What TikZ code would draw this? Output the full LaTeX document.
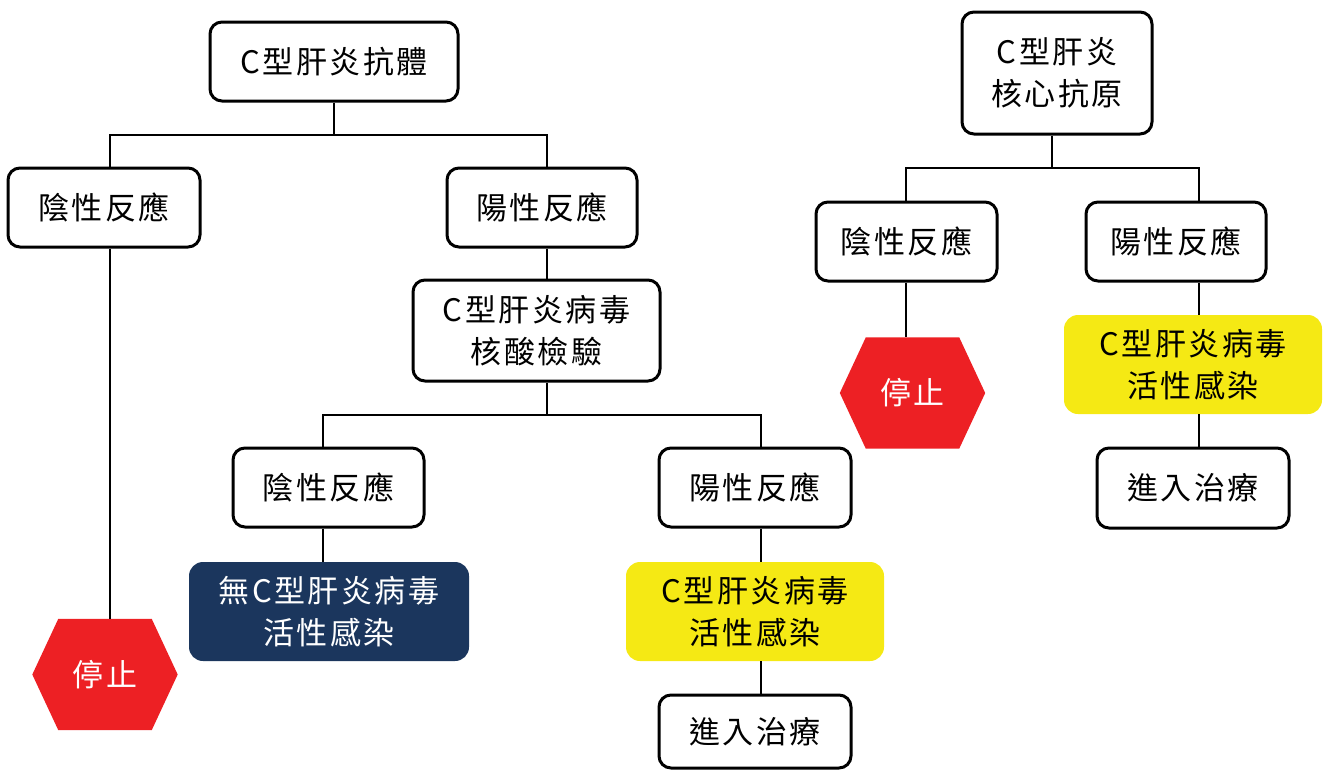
\documentclass[tikz,border=0pt]{standalone}
\usepackage{fontspec}
\setmainfont{Noto Sans CJK TC}[LetterSpace=8]
\usetikzlibrary{backgrounds}
\definecolor{stopred}{RGB}{237,32,36}
\definecolor{navyblue}{RGB}{27,54,93}
\definecolor{hlyellow}{RGB}{245,233,20}
\begin{document}
\begin{tikzpicture}[x=1pt,y=-1pt,
  txt/.style={align=center, inner sep=0pt, font=\fontsize{31}{42}\selectfont},
  box/.style={txt, draw, line width=3pt, rounded corners=12pt, fill=white},
  navybox/.style={txt, fill=navyblue, text=white, rounded corners=14pt},
  yellowbox/.style={txt, fill=hlyellow, rounded corners=14pt},
  stophex/.style={txt, text=white, minimum width=145pt, minimum height=111pt},
  conn/.style={line width=2.5pt}]
\useasboundingbox (0,0) rectangle (1324,771);

% left tree
\node[box, minimum width=248pt, minimum height=79pt] (top) at (334,61.5) {C型肝炎抗體};
\node[box, minimum width=192pt, minimum height=79pt] (n1) at (104,207.5) {陰性反應};
\node[box, minimum width=190pt, minimum height=79pt] (p1) at (542,207.5) {陽性反應};
\node[box, minimum width=247pt, minimum height=101pt] (nat) at (536.5,330.5) {C型肝炎病毒\\核酸檢驗};
\node[box, minimum width=191pt, minimum height=79pt] (n2) at (328.5,487.5) {陰性反應};
\node[box, minimum width=192pt, minimum height=79pt] (p2) at (755,487.5) {陽性反應};
\node[navybox, minimum width=280pt, minimum height=99pt] (nav) at (329,611.5) {無C型肝炎病毒\\活性感染};
\node[yellowbox, minimum width=258pt, minimum height=99pt] (yel2) at (755,611.5) {C型肝炎病毒\\活性感染};
\node[box, minimum width=192pt, minimum height=73pt] (tr2) at (755,731.5) {進入治療};
\node[stophex] (s1) at (105,674.5) {停止};

% right tree
\node[box, minimum width=190pt, minimum height=122pt] (core) at (1057,73) {C型肝炎\\核心抗原};
\node[box, minimum width=181pt, minimum height=79pt] (n3) at (906.5,241.5) {陰性反應};
\node[box, minimum width=180pt, minimum height=79pt] (p3) at (1176,241.5) {陽性反應};
\node[yellowbox, minimum width=258pt, minimum height=99pt] (yel3) at (1193,364.5) {C型肝炎病毒\\活性感染};
\node[box, minimum width=192pt, minimum height=80pt] (tr3) at (1193,488) {進入治療};
\node[stophex] (s2) at (912.5,393) {停止};

\begin{scope}[on background layer]
  \fill[stopred] (s1.west) -- ([xshift=26pt]s1.north west) -- ([xshift=-26pt]s1.north east) -- (s1.east) -- ([xshift=-26pt]s1.south east) -- ([xshift=26pt]s1.south west) -- cycle;
  \fill[stopred] (s2.west) -- ([xshift=26pt]s2.north west) -- ([xshift=-26pt]s2.north east) -- (s2.east) -- ([xshift=-26pt]s2.south east) -- ([xshift=26pt]s2.south west) -- cycle;
\end{scope}

\coordinate (j1L) at (110,135);
\coordinate (j1R) at (547,135);
\coordinate (j2L) at (323,415);
\coordinate (j2R) at (761,415);
\coordinate (j3M) at (1052,168);
\coordinate (j3L) at (906,168);
\coordinate (j3R) at (1199,168);

\draw[conn] (top.south) -- (top.south |- j1L);
\draw[conn] (j1L |- n1.north) -- (j1L) -- (j1R) -- (j1R |- p1.north);
\draw[conn] (j1L |- n1.south) -- (j1L |- s1.north);
\draw[conn] (j1R |- p1.south) -- (j1R |- nat.north);
\draw[conn] (j1R |- nat.south) -- (j1R |- j2L);
\draw[conn] (j2L |- n2.north) -- (j2L) -- (j2R) -- (j2R |- p2.north);
\draw[conn] (j2L |- n2.south) -- (j2L |- nav.north);
\draw[conn] (j2R |- p2.south) -- (j2R |- yel2.north);
\draw[conn] (j2R |- yel2.south) -- (j2R |- tr2.north);

\draw[conn] (j3M |- core.south) -- (j3M);
\draw[conn] (j3L |- n3.north) -- (j3L) -- (j3R) -- (j3R |- p3.north);
\draw[conn] (j3L |- n3.south) -- (j3L |- s2.north);
\draw[conn] (j3R |- p3.south) -- (j3R |- yel3.north);
\draw[conn] (j3R |- yel3.south) -- (j3R |- tr3.north);
\end{tikzpicture}
\end{document}
